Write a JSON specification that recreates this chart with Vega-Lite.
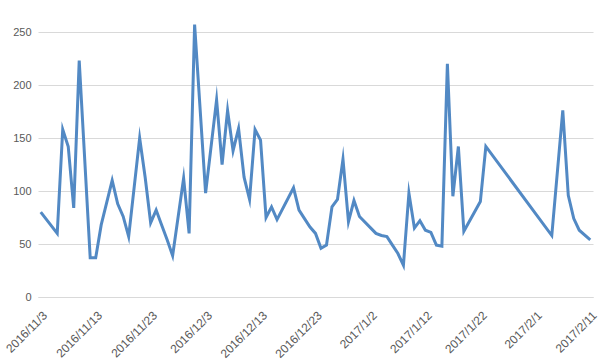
{
  "$schema": "https://vega.github.io/schema/vega-lite/v6.json",
  "width": 555,
  "height": 265,
  "autosize": {"type": "none"},
  "padding": {"left": 38, "top": 32, "right": 14, "bottom": 64},
  "background": "white",
  "config": {"view": {"stroke": null}, "font": "Liberation Sans"},
  "data": {"values": [
    {"date": "2016-11-03", "value": 80},
    {"date": "2016-11-06", "value": 60},
    {"date": "2016-11-07", "value": 158},
    {"date": "2016-11-08", "value": 142},
    {"date": "2016-11-09", "value": 84},
    {"date": "2016-11-10", "value": 223},
    {"date": "2016-11-12", "value": 37},
    {"date": "2016-11-13", "value": 37},
    {"date": "2016-11-14", "value": 68},
    {"date": "2016-11-16", "value": 110},
    {"date": "2016-11-17", "value": 88},
    {"date": "2016-11-18", "value": 76},
    {"date": "2016-11-19", "value": 57},
    {"date": "2016-11-21", "value": 150},
    {"date": "2016-11-22", "value": 113},
    {"date": "2016-11-23", "value": 70},
    {"date": "2016-11-24", "value": 82},
    {"date": "2016-11-25", "value": 68},
    {"date": "2016-11-26", "value": 54},
    {"date": "2016-11-27", "value": 39},
    {"date": "2016-11-29", "value": 112},
    {"date": "2016-11-30", "value": 60},
    {"date": "2016-12-01", "value": 257},
    {"date": "2016-12-03", "value": 98},
    {"date": "2016-12-05", "value": 186},
    {"date": "2016-12-06", "value": 125},
    {"date": "2016-12-07", "value": 176},
    {"date": "2016-12-08", "value": 138},
    {"date": "2016-12-09", "value": 159},
    {"date": "2016-12-10", "value": 113},
    {"date": "2016-12-11", "value": 92},
    {"date": "2016-12-12", "value": 158},
    {"date": "2016-12-13", "value": 148},
    {"date": "2016-12-14", "value": 75},
    {"date": "2016-12-15", "value": 85},
    {"date": "2016-12-16", "value": 73},
    {"date": "2016-12-19", "value": 103},
    {"date": "2016-12-20", "value": 82},
    {"date": "2016-12-21", "value": 74},
    {"date": "2016-12-22", "value": 66},
    {"date": "2016-12-23", "value": 60},
    {"date": "2016-12-24", "value": 46},
    {"date": "2016-12-25", "value": 49},
    {"date": "2016-12-26", "value": 85},
    {"date": "2016-12-27", "value": 92},
    {"date": "2016-12-28", "value": 130},
    {"date": "2016-12-29", "value": 71},
    {"date": "2016-12-30", "value": 91},
    {"date": "2016-12-31", "value": 76},
    {"date": "2017-01-03", "value": 60},
    {"date": "2017-01-04", "value": 58},
    {"date": "2017-01-05", "value": 57},
    {"date": "2017-01-06", "value": 49},
    {"date": "2017-01-07", "value": 41},
    {"date": "2017-01-08", "value": 30},
    {"date": "2017-01-09", "value": 98},
    {"date": "2017-01-10", "value": 65},
    {"date": "2017-01-11", "value": 72},
    {"date": "2017-01-12", "value": 63},
    {"date": "2017-01-13", "value": 61},
    {"date": "2017-01-14", "value": 49},
    {"date": "2017-01-15", "value": 48},
    {"date": "2017-01-16", "value": 220},
    {"date": "2017-01-17", "value": 95},
    {"date": "2017-01-18", "value": 142},
    {"date": "2017-01-19", "value": 62},
    {"date": "2017-01-22", "value": 90},
    {"date": "2017-01-23", "value": 142},
    {"date": "2017-02-04", "value": 58},
    {"date": "2017-02-06", "value": 176},
    {"date": "2017-02-07", "value": 96},
    {"date": "2017-02-08", "value": 74},
    {"date": "2017-02-09", "value": 63},
    {"date": "2017-02-11", "value": 54}
  ]},
  "mark": {"type": "line", "color": "#5289c4", "strokeWidth": 3, "clip": false, "strokeJoin": "miter", "strokeMiterLimit": 10},
  "encoding": {
    "x": {
      "field": "date",
      "type": "temporal",
      "scale": {"domain": [{"year": 2016, "month": 11, "date": 2, "hours": 12}, {"year": 2017, "month": 2, "date": 11, "hours": 12}]},
      "axis": {
        "title": null,
        "values": [
          {"year": 2016, "month": 11, "date": 3},
          {"year": 2016, "month": 11, "date": 13},
          {"year": 2016, "month": 11, "date": 23},
          {"year": 2016, "month": 12, "date": 3},
          {"year": 2016, "month": 12, "date": 13},
          {"year": 2016, "month": 12, "date": 23},
          {"year": 2017, "month": 1, "date": 2},
          {"year": 2017, "month": 1, "date": 12},
          {"year": 2017, "month": 1, "date": 22},
          {"year": 2017, "month": 2, "date": 1},
          {"year": 2017, "month": 2, "date": 11}
        ],
        "format": "%Y/%-m/%-d",
        "labelAngle": -45,
        "labelAlign": "right",
        "labelBaseline": "middle",
        "labelFontSize": 12,
        "labelColor": "#595959",
        "labelPadding": 16,
        "labelOffset": 4,
        "labelOverlap": false,
        "labelBound": false,
        "labelFlush": false,
        "ticks": false,
        "grid": false,
        "domain": true,
        "domainColor": "#d9d9d9",
        "domainWidth": 1
      }
    },
    "y": {
      "field": "value",
      "type": "quantitative",
      "scale": {"domain": [0, 250], "nice": false},
      "axis": {
        "title": null,
        "values": [0, 50, 100, 150, 200, 250],
        "labelFontSize": 11,
        "labelColor": "#595959",
        "labelPadding": 7,
        "ticks": false,
        "domain": false,
        "grid": true,
        "gridColor": "#d9d9d9",
        "gridWidth": 1
      }
    }
  }
}
